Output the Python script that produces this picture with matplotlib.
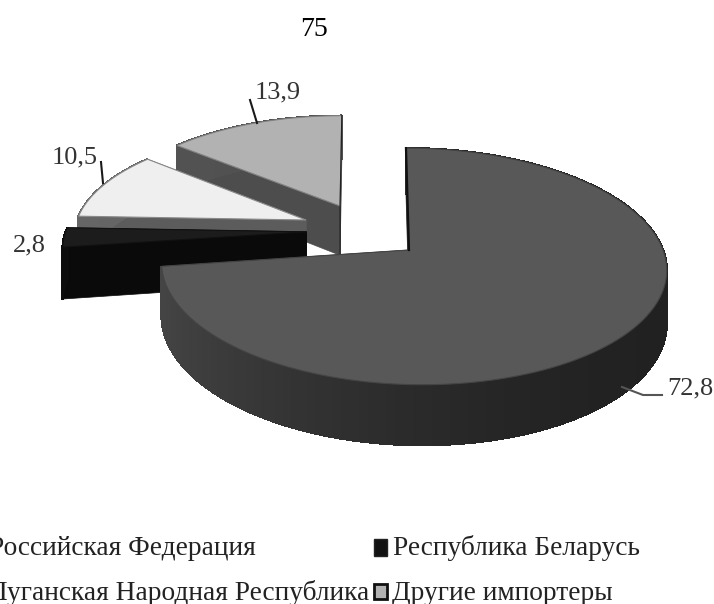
import matplotlib
matplotlib.use("Agg")
import matplotlib.pyplot as plt
import numpy as np
from matplotlib.patches import Polygon, Rectangle

names = ["Российская Федерация", "Республика Беларусь",
         "Луганская Народная Республика", "Другие импортеры"]
values = [72.8, 2.8, 10.5, 13.9]
page_number = "75"

# how far each slice is pulled out of the pie, in pie radii
shift_x = [0.0, -0.43, -0.435, -0.295]
shift_y = [0.0, 0.16, 0.268, 0.40]
radius = [1.0, 0.985, 0.95, 0.98]
apex_nudge = [-4, 0, 0, 0]
top_colors = ["#585858", "#1c1c1c", "#efefef", "#b2b2b2"]
wall_dark = [0.13, 0.04, 0.36, 0.30]
wall_light = [0.27, 0.05, 0.40, 0.33]
edge_colors = ["#444444", "#111111", "#8a8a8a", "#808080"]
label_pos = [(667, 388), (13, 245), (52, 157), (255, 92)]
leaders = [[(622, 387), (643, 395), (662, 395)], None,
           [(101, 162), (103, 183)], [(250, 100), (257, 123)]]

CX, CY = 413, 250
A, B = 250, 116
PERSP = 0.139
DEPTH = 52

plt.rcParams["font.family"] = ["Liberation Serif", "DejaVu Serif"]
fig = plt.figure(figsize=(7.14, 6.04), dpi=100)
ax = fig.add_axes([0, 0, 1, 1])
ax.set_xlim(0, 714)
ax.set_ylim(604, 0)
ax.axis("off")


def project(x, y, z=0.0):
    # simple perspective: the far side of the pie comes out smaller
    w = 1 + PERSP * y
    return CX + (A * x - 8 * y) / w, CY + (z - B * y) / w


# slices are drawn back to front, the big one last
edges = np.cumsum([0] + values) / sum(values) * 2 * np.pi
for i in [3, 2, 1, 0]:
    th = np.linspace(edges[i], edges[i + 1], max(int(values[i] * 2), 8))
    xs = radius[i] * np.sin(th) + shift_x[i]
    ys = radius[i] * np.cos(th) + shift_y[i]
    apex = project(shift_x[i], shift_y[i])
    apex = (apex[0] + apex_nudge[i], apex[1])
    apex_low = project(shift_x[i], shift_y[i], DEPTH)
    apex_low = (apex_low[0] + apex_nudge[i], apex_low[1])
    top = list(zip(*project(xs, ys)))
    low = list(zip(*project(xs, ys, DEPTH)))
    wall = str(wall_dark[i])
    base = i * -10

    # the two cut faces
    for k in [0, -1]:
        ax.add_patch(Polygon([apex, top[k], low[k], apex_low], fc=wall, ec=wall, lw=0.5, zorder=base))
    # outer wall, lighter towards the left
    for k in range(len(th) - 1):
        t = np.clip((-np.sin(th[k]) + 1) / 2, 0, 1) ** 2
        shade = str(wall_dark[i] + (wall_light[i] - wall_dark[i]) * t)
        ax.add_patch(Polygon([top[k], top[k + 1], low[k + 1], low[k]], fc=shade, ec=shade, lw=1.0,
                             antialiased=False, zorder=base + 1))
    ax.add_patch(Polygon([apex] + top, fc=top_colors[i], ec=edge_colors[i], lw=0.8, zorder=base + 2))
    # dark line down the cut on the big slice and on the last one
    if i == 0:
        ax.plot([top[0][0], apex[0]], [top[0][1], apex[1]], color="#111111", lw=1.6, zorder=base + 3)
    if i == 3:
        ax.plot([top[-1][0], apex[0], apex_low[0]], [top[-1][1], apex[1], apex_low[1]],
                color="#222222", lw=0.9, zorder=base + 3)

for i in range(4):
    txt = str(values[i]).replace(".", ",")
    ax.text(label_pos[i][0], label_pos[i][1], txt, fontsize=19, color="#333333", va="center", ha="left")
    if leaders[i] is not None:
        ax.plot([p[0] for p in leaders[i]], [p[1] for p in leaders[i]],
                color="#1a1a1a" if i else "#555555", lw=1.5)

ax.text(314, 30, page_number, fontsize=20, color="black", ha="center", va="center")

# legend, the left column runs off the page
ax.text(-11, 555, names[0], fontsize=19.7, color="#222222", va="baseline", clip_on=True)
ax.text(393, 555, names[1], fontsize=19.7, color="#222222", va="baseline")
ax.text(-11, 600, names[2], fontsize=19.7, color="#222222", va="baseline", clip_on=True)
ax.text(392, 600, names[3], fontsize=19.7, color="#222222", va="baseline")
ax.add_patch(Rectangle((374, 539), 13, 17, fc="#111111", ec="#222222", lw=1))
ax.add_patch(Rectangle((374, 584), 13, 15, fc="#b2b2b2", ec="#111111", lw=2))

fig.savefig("out.png", dpi=100, facecolor="white")
